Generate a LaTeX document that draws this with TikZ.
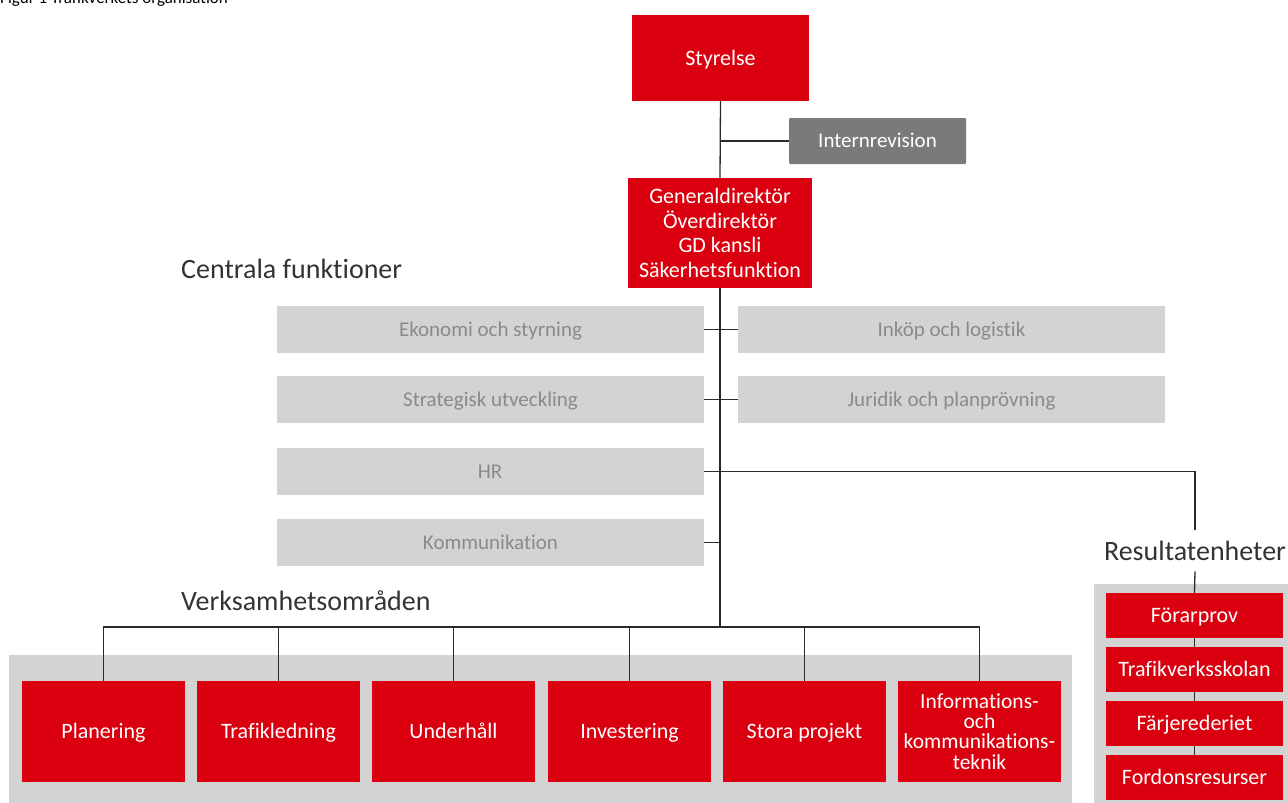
\documentclass[tikz,border=0pt]{standalone}
\usepackage{fontspec}
\setmainfont{Carlito}[Ligatures=NoCommon]
\definecolor{tvred}{HTML}{DA000F}
\definecolor{tvgray}{HTML}{7A7A7A}
\definecolor{lightbox}{HTML}{D3D3D3}
\definecolor{boxtext}{HTML}{8A8A8A}
\definecolor{linec}{HTML}{2A2A2A}
\definecolor{headc}{HTML}{333333}
\tikzset{
  redbox/.style={fill=tvred, text=white, inner sep=0pt, align=center, font=\fontsize{22}{24.5}\selectfont},
  redline/.style={text height=14.2pt, text depth=0pt},
  grayline/.style={text height=13.5pt, text depth=0pt},
  graybox/.style={fill=lightbox, text=boxtext, inner sep=0pt, grayline, minimum width=427pt, minimum height=47pt, font=\fontsize{21}{24}\selectfont},
  auditbox/.style={fill=tvgray, text=white, inner sep=0pt, grayline, rounded corners=1pt, font=\fontsize{21}{24}\selectfont},
  vobox/.style={redbox, minimum width=163pt, minimum height=101pt},
  resbox/.style={redbox, redline, minimum width=177pt, minimum height=45pt},
  heading/.style={text=headc, inner sep=0pt, font=\fontsize{28}{32}\selectfont},
  conn/.style={draw=linec, line width=1.3pt},
  panel/.style={fill=lightbox}
}
\begin{document}
\begin{tikzpicture}[x=1pt,y=-1pt]
\useasboundingbox (0,0) rectangle (1288,803);
% title
\node[anchor=base west, inner sep=0pt, font=\fontsize{17}{19}\selectfont] (title) at (0,4) {Figur 1 Trafikverkets organisation};
% panels
\fill[panel] (9,655) rectangle (1072,810);
\fill[panel] (1094,584) rectangle (1295,810);
% top
\node[redbox, redline, minimum width=177pt, minimum height=86pt] (styr) at (720.5,58) {Styrelse};
\node[auditbox, minimum width=177pt, minimum height=46pt] (intern) at (877.5,141) {Internrevision};
\node[redbox, minimum width=184pt, minimum height=110pt] (gd) at (720,233) {Generaldirektör\\Överdirektör\\GD kansli\\Säkerhetsfunktion};
% headings
\node[heading, anchor=base west] (hcent) at (181,278) {Centrala funktioner};
\node[heading, anchor=base west] (hverk) at (181,610) {Verksamhetsområden};
% central functions
\node[graybox] (ekon) at (490.5,329.5) {Ekonomi och styrning};
\node[graybox] (inkop) at (951.5,329.5) {Inköp och logistik};
\node[graybox] (strat) at (490.5,399.5) {Strategisk utveckling};
\node[graybox] (jur) at (951.5,399.5) {Juridik och planprövning};
\node[graybox] (hr) at (490,471.5) {HR};
\node[graybox] (komm) at (490.5,542.5) {Kommunikation};
% verksamhetsomraden
\node[vobox, redline] (plan) at (103.5,731.5) {Planering};
\node[vobox, redline] (trafik) at (278.5,731.5) {Trafikledning};
\node[vobox, redline] (underh) at (453.5,731.5) {Underhåll};
\node[vobox, redline] (invest) at (629.5,731.5) {Investering};
\node[vobox, redline] (stora) at (804.5,731.5) {Stora projekt};
\node[vobox, font=\fontsize{21.5}{20.3}\selectfont] (ikt) at (979.5,731.5) {Informations-\\och\\kommunikations-\\teknik};
% resultatenheter
\node[heading, minimum height=41pt, anchor=north] (hres) at (1195,530) {Resultatenheter};
\node[resbox] (forar) at (1194.5,615.5) {Förarprov};
\node[resbox] (skolan) at (1194.5,669.5) {Trafikverksskolan};
\node[resbox] (farje) at (1194.5,723.5) {Färjerederiet};
\node[resbox] (fordon) at (1194.5,777.5) {Fordonsresurser};
% trunk
\coordinate (trunkend) at (720,627);
\draw[conn] (styr.south) -- (gd.north);
\draw[conn] (gd.south) -- (trunkend);
\draw[conn] (intern.west) -- (intern.west -| styr.south);
\draw[conn] (ekon.east) -- (inkop.west);
\draw[conn] (strat.east) -- (jur.west);
\draw[conn] (hr.east) -| (hres.north);
\draw[conn] (komm.east) -- (komm.east -| trunkend);
\draw[conn] (hres.south) -- (forar.north);
\draw[conn] (forar.south) -- (skolan.north);
\draw[conn] (skolan.south) -- (farje.north);
\draw[conn] (farje.south) -- (fordon.north);
\draw[conn] (trunkend) -| (plan.north);
\draw[conn] (trunkend) -| (trafik.north);
\draw[conn] (trunkend) -| (underh.north);
\draw[conn] (trunkend) -| (invest.north);
\draw[conn] (trunkend) -| (stora.north);
\draw[conn] (trunkend) -| (ikt.north);
\end{tikzpicture}
\end{document}
